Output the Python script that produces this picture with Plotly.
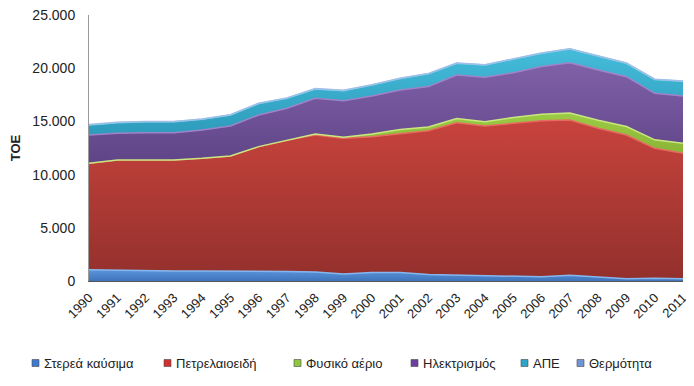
import plotly.graph_objects as go

years = list(range(1990, 2012))
year_labels = [str(y) for y in years]

solid = [1050, 1000, 950, 950, 950, 950, 950, 900, 850, 650, 800, 800, 600, 550, 500, 450, 400, 550, 400, 200, 250, 200]
oil = [10010, 10370, 10420, 10420, 10580, 10800, 11680, 12350, 12870, 12760, 12760, 13080, 13530, 14330, 14070, 14370, 14670, 14580, 13950, 13520, 12220, 11800]
gas = [0, 0, 0, 0, 0, 0, 0, 0, 100, 100, 250, 350, 350, 400, 400, 550, 600, 650, 750, 800, 800, 950]
electricity = [2660, 2510, 2570, 2570, 2670, 2820, 2970, 2980, 3350, 3440, 3580, 3720, 3790, 4080, 4180, 4210, 4480, 4740, 4730, 4680, 4370, 4440]
res = [950, 1000, 1030, 1030, 1000, 1030, 1080, 950, 880, 940, 1020, 1080, 1200, 1100, 1150, 1250, 1250, 1280, 1300, 1260, 1300, 1380]
heat = [30, 30, 30, 30, 30, 30, 30, 30, 30, 30, 30, 30, 30, 30, 30, 30, 30, 30, 30, 30, 30, 30]

names = ["Στερεά καύσιμα", "Πετρελαιοειδή", "Φυσικό αέριο", "Ηλεκτρισμός", "ΑΠΕ", "Θερμότητα"]
series = [solid, oil, gas, electricity, res, heat]
tops = ["#5B95DC", "#C8433D", "#9CCB45", "#8061A8", "#45BCDA", "#7B9DD2"]
bottoms = ["#3F74BA", "#93302C", "#86AE33", "#5F4487", "#2E9CBC", "#6385BE"]
edges = ["#86B6EE", "#E66A62", "#C9E77F", "#9F83C8", "#76D6EE", "#A2BEE6"]
legend_colors = ["#3E7AD0", "#D0302E", "#8DC63F", "#6B3FA0", "#2BA6C9", "#6F95D6"]

FONT = "Liberation Sans, Arial, sans-serif"

# The page body has an 8px default margin; figure coordinates below are
# offset so the plot lands where it sits in the reference picture.
OFF = 8
W, H = 694 - OFF, 386 - OFF
L = 89 - OFF
T = 15 - OFF
R = W - (683 - OFF)
B = H - (281 - OFF)
PW, PH = W - L - R, H - T - B

fig = go.Figure()
cum = [0] * len(years)
for name, vals, ct, cb, ec in zip(names, series, tops, bottoms, edges):
    lo = min(cum)
    cum = [c + v for c, v in zip(cum, vals)]
    hi = max(cum)
    fig.add_trace(go.Scatter(
        x=years, y=vals, name=name, mode="lines",
        stackgroup="one", fillcolor=ct,
        fillgradient=dict(type="vertical", colorscale=[[0, cb], [1, ct]], start=lo, stop=hi),
        line=dict(color=ec, width=1.5, shape="linear"),
        showlegend=False,
    ))

# manual legend (one row, as in the reference); pixel positions in screen coords
legend_px = [35, 167, 297, 414, 524, 580]
legend_y = 363 - OFF
shapes = []
annotations = []
for name, px, col in zip(names, legend_px, legend_colors):
    px = px - OFF
    x0 = (px - 3 - L) / PW
    x1 = (px + 4 - L) / PW
    y0 = (H - B - (legend_y + 3.5)) / PH
    y1 = (H - B - (legend_y - 3.5)) / PH
    shapes.append(dict(type="rect", xref="paper", yref="paper", x0=x0, x1=x1, y0=y0, y1=y1,
                       fillcolor=col, line=dict(color="#4a4a4a", width=0.6)))
    annotations.append(dict(text=name, xref="paper", yref="paper",
                            x=(px + 7 - L) / PW, y=(H - B - legend_y) / PH,
                            xanchor="left", yanchor="middle", showarrow=False,
                            font=dict(size=13, family=FONT, color="#222222")))

fig.update_layout(
    width=W, height=H,
    margin=dict(l=L, r=R, t=T, b=B, autoexpand=False),
    paper_bgcolor="white", plot_bgcolor="white",
    separators=",.",
    font=dict(family=FONT, size=13, color="#222222"),
    showlegend=False,
    shapes=shapes,
    annotations=annotations,
    xaxis=dict(
        range=[1990, 2011], tickmode="array", tickvals=years, ticktext=year_labels,
        tickangle=-45, showgrid=False, zeroline=False, automargin=False,
        showline=True, linecolor="#555555", linewidth=1,
        ticks="outside", ticklen=3, tickcolor="rgba(0,0,0,0)",
        tickfont=dict(size=13, family=FONT), ticklabeloverflow="allow",
    ),
    yaxis=dict(
        range=[0, 25000], tickvals=[0, 5000, 10000, 15000, 20000, 25000],
        tickformat=",d", showgrid=False, zeroline=False, automargin=False,
        showline=True, linecolor="#9a9a9a", linewidth=1,
        ticks="outside", ticklen=10, tickcolor="rgba(0,0,0,0)",
        tickfont=dict(size=14, family=FONT), ticklabeloverflow="allow",
        title=dict(text="<b>TOE</b>", font=dict(size=13, family=FONT), standoff=15),
    ),
)

fig.write_html("out.html")
